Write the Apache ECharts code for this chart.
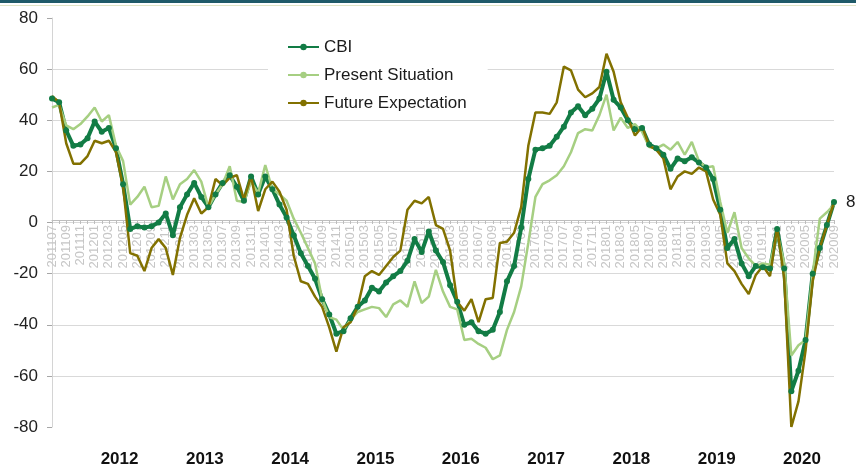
<!DOCTYPE html>
<html><head><meta charset="utf-8">
<script src="https://cdn.jsdelivr.net/npm/echarts@6/dist/echarts.min.js"></script>
<style>html,body{margin:0;padding:0;background:#fff;}#c{width:856px;height:468px;}</style>
</head><body><div id="c"></div>
<script>
const months = [
 '201107','201108','201109','201110','201111','201112',
 '201201','201202','201203','201204','201205','201206','201207','201208','201209','201210','201211','201212',
 '201301','201302','201303','201304','201305','201306','201307','201308','201309','201310','201311','201312',
 '201401','201402','201403','201404','201405','201406','201407','201408','201409','201410','201411','201412',
 '201501','201502','201503','201504','201505','201506','201507','201508','201509','201510','201511','201512',
 '201601','201602','201603','201604','201605','201606','201607','201608','201609','201610','201611','201612',
 '201701','201702','201703','201704','201705','201706','201707','201708','201709','201710','201711','201712',
 '201801','201802','201803','201804','201805','201806','201807','201808','201809','201810','201811','201812',
 '201901','201902','201903','201904','201905','201906','201907','201908','201909','201910','201911','201912',
 '202001','202002','202003','202004','202005','202006','202007','202008','202009'
];
const years = ['2012','2013','2014','2015','2016','2017','2018','2019','2020'];

const cbi = [
 48.5,47,36,30,30.5,33,
 39.5,35.5,37,29,15,-2.5,-1.5,-2,-1.5,0,3.5,-5,
 6,11,15.5,10,6,11,15.5,18.5,14,8.5,18,11,
 18,13,7,2,-5,-12,-17,-22,-30,-36,-43.5,-42.5,
 -37.5,-33,-30.5,-25.5,-27,-23.5,-21,-19,-15,-6.5,-11.5,-3.5,
 -11,-15.5,-24.5,-31,-40,-39,-42.5,-43.5,-42,-35,-23,-17,
 -2,17,28.5,29,30,33.5,37.5,43,45.5,42,44.5,48.5,
 59,48,45,40,36.5,37,30.5,29,26.5,21,25,24,
 25.5,23.5,21.5,17,5,-10,-6.5,-16,-21,-17,-17.5,-18,
 -2.5,-18,-66,-58,-46,-20,-10,-1,8
];
const presentSituation = [
 45,46,38,36.5,38.5,41.5,
 45,39.5,42,30,24,7,10,14,6,6.5,18,9,
 15,17,20.5,16,6,11,15,22,8.5,8,16,11.5,
 22.5,13,11,8.5,1.5,-4,-10,-16,-30,-37,-38,-42,
 -38,-35,-34,-33,-33.5,-37,-32,-30.5,-33,-23,-31.5,-29,
 -18.5,-27,-33,-34,-46,-45.5,-47.5,-49,-53.5,-52,-42,-35,
 -25,-8,10,15,16.5,18.5,22,27.5,35,36.5,36,42,
 50,36,41,37,38.5,35.5,29.5,29,30.5,28.5,31.5,26.5,
 31.5,24,21.5,22,8,-4,4,-10,-14,-17,-16,-16.5,
 -4,-16,-52,-48,-46,-20,1.5,4,7
];
const futureExpectation = [
 49.5,47,31,23,23,26,
 32,31,32,27.5,14,-12,-13,-19,-10,-6.5,-10,-20.5,
 -6,3,9.5,3.5,6,17,14.5,17.5,18.5,9,18,4.5,
 13,16,12,5,-13,-23,-24,-29,-33,-41,-50.5,-41,
 -39,-33,-21,-19,-20.5,-17,-13.5,-11,5,8.5,7.5,10,
 -1,-2.5,-11,-31,-34.5,-30,-39,-30,-29.5,-8,-7.5,-4,
 6,30,43,43,42.5,47,61,59.5,52,49,50.5,53,
 66,59,47,41,34,37.5,30,28.5,25,13,18,20,
 19,21.5,20,9,3,-16,-19,-24,-28,-20.5,-17,-21,
 -2,-22,-80,-70,-50,-23,-10,-1,8
];
const seriesNames = ['CBI','Present Situation','Future Expectation'];

const yearPos = years.map(y => months.indexOf(y + '04') + 0.5);
const yearByPos = {};
yearPos.forEach((p, k) => { yearByPos[p] = years[k]; });

const FONT = "'Liberation Sans', Arial, sans-serif";
const GRID = {left: 52, right: 22, top: 18, bottom: 36};
const PLOT_H = 468 - GRID.top - GRID.bottom;
const Y_MIN = -80, Y_MAX = 80;
// distance from the grid bottom up to the zero line, derived from the axis range
const zeroOffset = PLOT_H * (0 - Y_MIN) / (Y_MAX - Y_MIN);

const chart = echarts.init(document.getElementById('c'));
chart.setOption({
  animation: false,
  backgroundColor: '#ffffff',
  textStyle: {fontFamily: FONT},
  grid: GRID,
  graphic: [
    {type: 'rect', left: 0, top: 0, shape: {width: 856, height: 3}, style: {fill: '#1f5a69'}},
    {type: 'rect', left: 0, top: 5, shape: {width: 856, height: 1}, style: {fill: '#e0e4c6'}}
  ],
  legend: {
    orient: 'vertical', left: 268, top: 30,
    padding: [7, 21, 7, 19],
    backgroundColor: '#ffffff',
    itemWidth: 31, itemHeight: 8, itemGap: 8,
    data: seriesNames,
    textStyle: {fontSize: 17, color: '#1a1a1a', lineHeight: 20, fontFamily: FONT}
  },
  xAxis: [{
    type: 'category', data: months, boundaryGap: false,
    position: 'bottom', offset: -zeroOffset,
    axisLine: {onZero: false, lineStyle: {color: '#bdbdbd', width: 1}},
    axisTick: {show: true, interval: 0, length: 4, lineStyle: {color: '#bdbdbd'}},
    axisLabel: {interval: 1, rotate: 90, color: '#c6c6c6', fontSize: 13, margin: 5, fontFamily: FONT},
    splitLine: {show: false}
  }, {
    type: 'value', position: 'bottom', min: 0, max: months.length - 1,
    axisLine: {show: false, onZero: false}, axisTick: {show: false}, splitLine: {show: false},
    axisLabel: {
      customValues: yearPos, formatter: v => yearByPos[v] || '',
      fontWeight: 'bold', fontSize: 17, color: '#111', margin: 24,
      fontFamily: "'Liberation Sans Narrow', 'Liberation Sans', Arial, sans-serif"
    }
  }],
  yAxis: {
    type: 'value', min: Y_MIN, max: Y_MAX, interval: 20,
    axisLine: {show: true, lineStyle: {color: '#d4d4d4'}},
    axisTick: {show: true, length: 5, lineStyle: {color: '#a6a6a6'}},
    splitLine: {show: true, showMinLine: false, showMaxLine: false, lineStyle: {color: '#d9d9d9'}},
    axisLabel: {fontSize: 17, color: '#222', margin: 14, fontFamily: FONT}
  },
  series: [{
    name: seriesNames[0], type: 'line', data: cbi,
    symbol: 'circle', symbolSize: 6, showAllSymbol: true,
    lineStyle: {width: 4, color: '#127c45'}, itemStyle: {color: '#127c45'},
    endLabel: {show: true, formatter: '{c}', distance: 12, fontSize: 17, color: '#1a1a1a', fontFamily: FONT}
  }, {
    name: seriesNames[1], type: 'line', data: presentSituation,
    symbol: 'none', lineStyle: {width: 2.5, color: '#a6cf82'}, itemStyle: {color: '#a6cf82'}
  }, {
    name: seriesNames[2], type: 'line', data: futureExpectation,
    symbol: 'none', lineStyle: {width: 2.5, color: '#827100'}, itemStyle: {color: '#827100'}
  }]
});
</script>
</body></html>
